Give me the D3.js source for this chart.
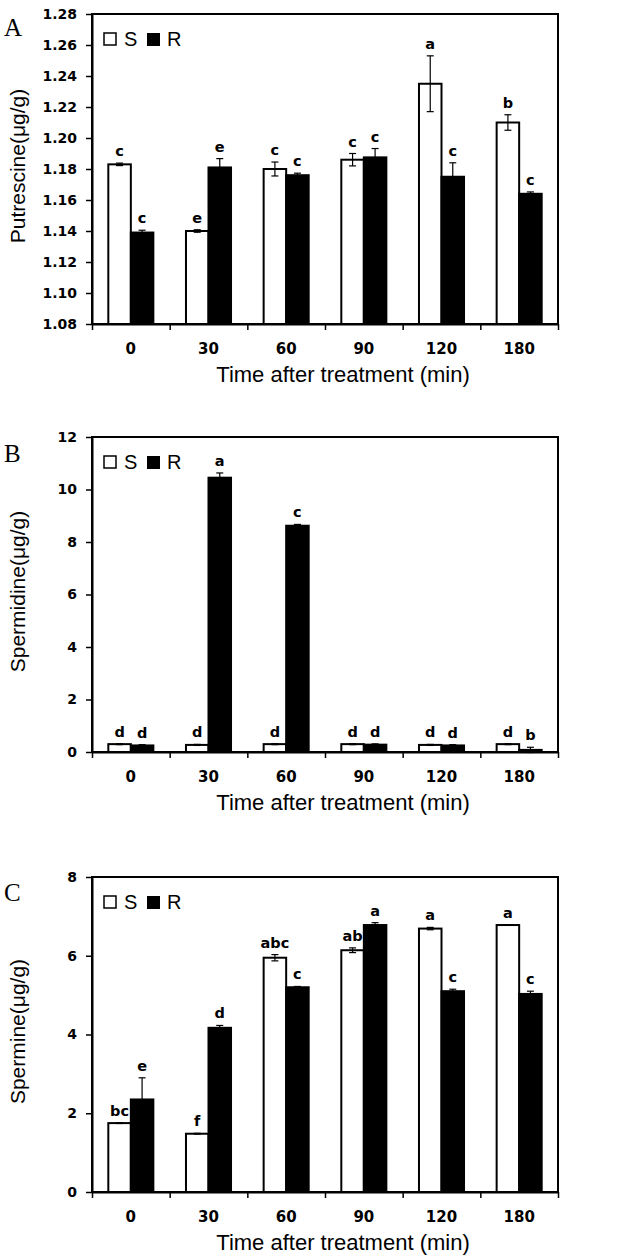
<!DOCTYPE html>
<html>
<head>
<meta charset="utf-8">
<script src="https://cdn.jsdelivr.net/npm/d3@7"></script>
<style>
  body { margin: 0; background: #fff; }
  svg { display: block; }
</style>
</head>
<body>
<div id="chart"></div>
<script>
// categories (time after treatment, min)
var times = ["0", "30", "60", "90", "120", "180"];

// A: putrescine
var putS = [1.183, 1.140, 1.180, 1.186, 1.235, 1.210];
var putSErr = [0.0008, 0.0008, 0.0045, 0.004, 0.018, 0.005];
var putR = [1.139, 1.181, 1.176, 1.1875, 1.175, 1.164];
var putRErr = [0.0015, 0.0057, 0.0013, 0.0057, 0.009, 0.0012];
var putSLetters = ["c", "e", "c", "c", "a", "b"];
var putRLetters = ["c", "e", "c", "c", "c", "c"];
var putTicks = [1.08, 1.10, 1.12, 1.14, 1.16, 1.18, 1.20, 1.22, 1.24, 1.26, 1.28];

// B: spermidine
var spdS = [0.30, 0.27, 0.30, 0.30, 0.27, 0.30];
var spdSErr = [0.02, 0.02, 0.02, 0.02, 0.02, 0.02];
var spdR = [0.25, 10.45, 8.62, 0.28, 0.25, 0.08];
var spdRErr = [0.03, 0.18, 0.05, 0.03, 0.03, 0.10];
var spdSLetters = ["d", "d", "d", "d", "d", "d"];
var spdRLetters = ["d", "a", "c", "d", "d", "b"];
var spdTicks = [0, 2, 4, 6, 8, 10, 12];

// C: spermine
var spmS = [1.75, 1.48, 5.95, 6.14, 6.69, 6.78];
var spmSErr = [0.01, 0.01, 0.08, 0.06, 0.03, 0.01];
var spmR = [2.35, 4.17, 5.20, 6.78, 5.10, 5.03];
var spmRErr = [0.55, 0.06, 0.02, 0.06, 0.05, 0.07];
var spmSLetters = ["bc", "f", "abc", "ab", "a", "a"];
var spmRLetters = ["e", "d", "c", "a", "c", "c"];
var spmTicks = [0, 2, 4, 6, 8];

var width = 636, height = 1260;
var left = 92, right = 558;

var svg = d3.select("#chart").append("svg")
    .attr("width", width)
    .attr("height", height);

var panels = [
    {letter: "A", top: 14, bottom: 324, letterY: 36, domain: [1.08, 1.28], ticks: putTicks,
     fmt: d3.format(".2f"), yTitle: "Putrescine(\u03bcg/g)",
     s: putS, sErr: putSErr, r: putR, rErr: putRErr, sLab: putSLetters, rLab: putRLetters},
    {letter: "B", top: 437, bottom: 752, letterY: 462, domain: [0, 12], ticks: spdTicks,
     fmt: d3.format("d"), yTitle: "Spermidine(\u03bcg/g)",
     s: spdS, sErr: spdSErr, r: spdR, rErr: spdRErr, sLab: spdSLetters, rLab: spdRLetters},
    {letter: "C", top: 877, bottom: 1192, letterY: 901, domain: [0, 8], ticks: spmTicks,
     fmt: d3.format("d"), yTitle: "Spermine(\u03bcg/g)",
     s: spmS, sErr: spmSErr, r: spmR, rErr: spmRErr, sLab: spmSLetters, rLab: spmRLetters}
];

var x = d3.scaleBand().domain(times).range([left, right]);
var edges = d3.scaleLinear().domain([0, times.length]).range([left, right]);
var barW = x.bandwidth() * 0.29;

panels.forEach(function(p) {
    var y = d3.scaleLinear().domain(p.domain).range([p.bottom, p.top]);
    var g = svg.append("g");

    // bars
    var rows = times.map(function(t, i) {
        return [
            {t: t, v: p.s[i], e: p.sErr[i], lab: p.sLab[i], fill: "#fff", off: -barW},
            {t: t, v: p.r[i], e: p.rErr[i], lab: p.rLab[i], fill: "#000", off: 0}
        ];
    });
    var bars = d3.merge(rows);

    g.selectAll(".bar")
        .data(bars)
        .enter().append("rect")
        .attr("class", "bar")
        .attr("x", function(d) { return x(d.t) + x.bandwidth() / 2 + d.off; })
        .attr("y", function(d) { return y(d.v); })
        .attr("width", barW)
        .attr("height", function(d) { return p.bottom - y(d.v); })
        .attr("fill", function(d) { return d.fill; })
        .attr("stroke", "#000")
        .attr("stroke-width", 2);

    // error bars
    var err = g.selectAll(".err")
        .data(bars)
        .enter().append("g")
        .attr("class", "err")
        .attr("stroke", "#000")
        .attr("stroke-width", 1.2);
    err.append("line")
        .attr("x1", function(d) { return x(d.t) + x.bandwidth() / 2 + d.off + barW / 2; })
        .attr("x2", function(d) { return x(d.t) + x.bandwidth() / 2 + d.off + barW / 2; })
        .attr("y1", function(d) { return y(d.v - d.e); })
        .attr("y2", function(d) { return y(d.v + d.e); });
    [1, -1].forEach(function(sign) {
        err.append("line")
            .attr("x1", function(d) { return x(d.t) + x.bandwidth() / 2 + d.off + barW / 2 - 3.5; })
            .attr("x2", function(d) { return x(d.t) + x.bandwidth() / 2 + d.off + barW / 2 + 3.5; })
            .attr("y1", function(d) { return y(d.v + sign * d.e); })
            .attr("y2", function(d) { return y(d.v + sign * d.e); });
    });

    // significance letters
    g.selectAll(".sig")
        .data(bars)
        .enter().append("text")
        .attr("class", "sig")
        .attr("x", function(d) { return x(d.t) + x.bandwidth() / 2 + d.off + barW / 2; })
        .attr("y", function(d) { return y(d.v + d.e) - 7; })
        .attr("text-anchor", "middle")
        .style("font-family", "DejaVu Sans")
        .style("font-weight", "bold")
        .style("font-size", "14.5px")
        .text(function(d) { return d.lab; });

    // frame
    g.append("rect")
        .attr("x", left)
        .attr("y", p.top)
        .attr("width", right - left)
        .attr("height", p.bottom - p.top)
        .attr("fill", "none")
        .attr("stroke", "#000")
        .attr("stroke-width", 2);

    // y axis
    var yAxis = g.append("g")
        .attr("transform", "translate(" + left + ",0)")
        .call(d3.axisLeft(y).tickValues(p.ticks).tickFormat(p.fmt).tickSize(6).tickSizeOuter(0).tickPadding(9));
    yAxis.select(".domain").attr("stroke-width", 2);
    yAxis.selectAll(".tick line").attr("stroke-width", 1.5);
    yAxis.selectAll("text")
        .style("font-family", "DejaVu Sans")
        .style("font-weight", "bold")
        .style("font-size", "14px")
        .attr("fill", "#000");

    // x axis: ticks at category edges, labels at centres
    var xEdge = g.append("g")
        .attr("transform", "translate(0," + p.bottom + ")")
        .call(d3.axisBottom(edges).tickValues(d3.range(times.length + 1)).tickFormat("").tickSize(6).tickSizeOuter(0));
    xEdge.select(".domain").attr("stroke-width", 2);
    xEdge.selectAll(".tick line").attr("stroke-width", 1.5);

    var xLab = g.append("g")
        .attr("transform", "translate(0," + p.bottom + ")")
        .call(d3.axisBottom(x).tickSize(0).tickPadding(19));
    xLab.select(".domain").remove();
    xLab.selectAll("text")
        .style("font-family", "DejaVu Sans")
        .style("font-weight", "bold")
        .style("font-size", "15px")
        .attr("fill", "#000");

    // x title
    g.append("text")
        .attr("x", 343)
        .attr("y", p.bottom + 58)
        .attr("text-anchor", "middle")
        .style("font-family", "Liberation Sans")
        .style("font-size", "22px")
        .text("Time after treatment (min)");

    // y title
    g.append("text")
        .attr("transform", "translate(25," + ((p.top + p.bottom) / 2 - 3) + ") rotate(-90)")
        .attr("text-anchor", "middle")
        .style("font-family", "Liberation Sans")
        .style("font-size", "21px")
        .text(p.yTitle);

    // panel letter
    g.append("text")
        .attr("x", 4)
        .attr("y", p.letterY)
        .style("font-family", "Liberation Serif")
        .style("font-size", "25px")
        .text(p.letter);

    // legend
    var ly = p.top + 19;
    g.append("rect").attr("x", 104).attr("y", ly).attr("width", 12).attr("height", 12)
        .attr("fill", "#fff").attr("stroke", "#000").attr("stroke-width", 1.5);
    g.append("text").attr("x", 124).attr("y", ly + 13)
        .style("font-family", "Liberation Sans").style("font-size", "20px").text("S");
    g.append("rect").attr("x", 147).attr("y", ly).attr("width", 13).attr("height", 13)
        .attr("fill", "#000");
    g.append("text").attr("x", 167).attr("y", ly + 13)
        .style("font-family", "Liberation Sans").style("font-size", "20px").text("R");
});
</script>
</body>
</html>
